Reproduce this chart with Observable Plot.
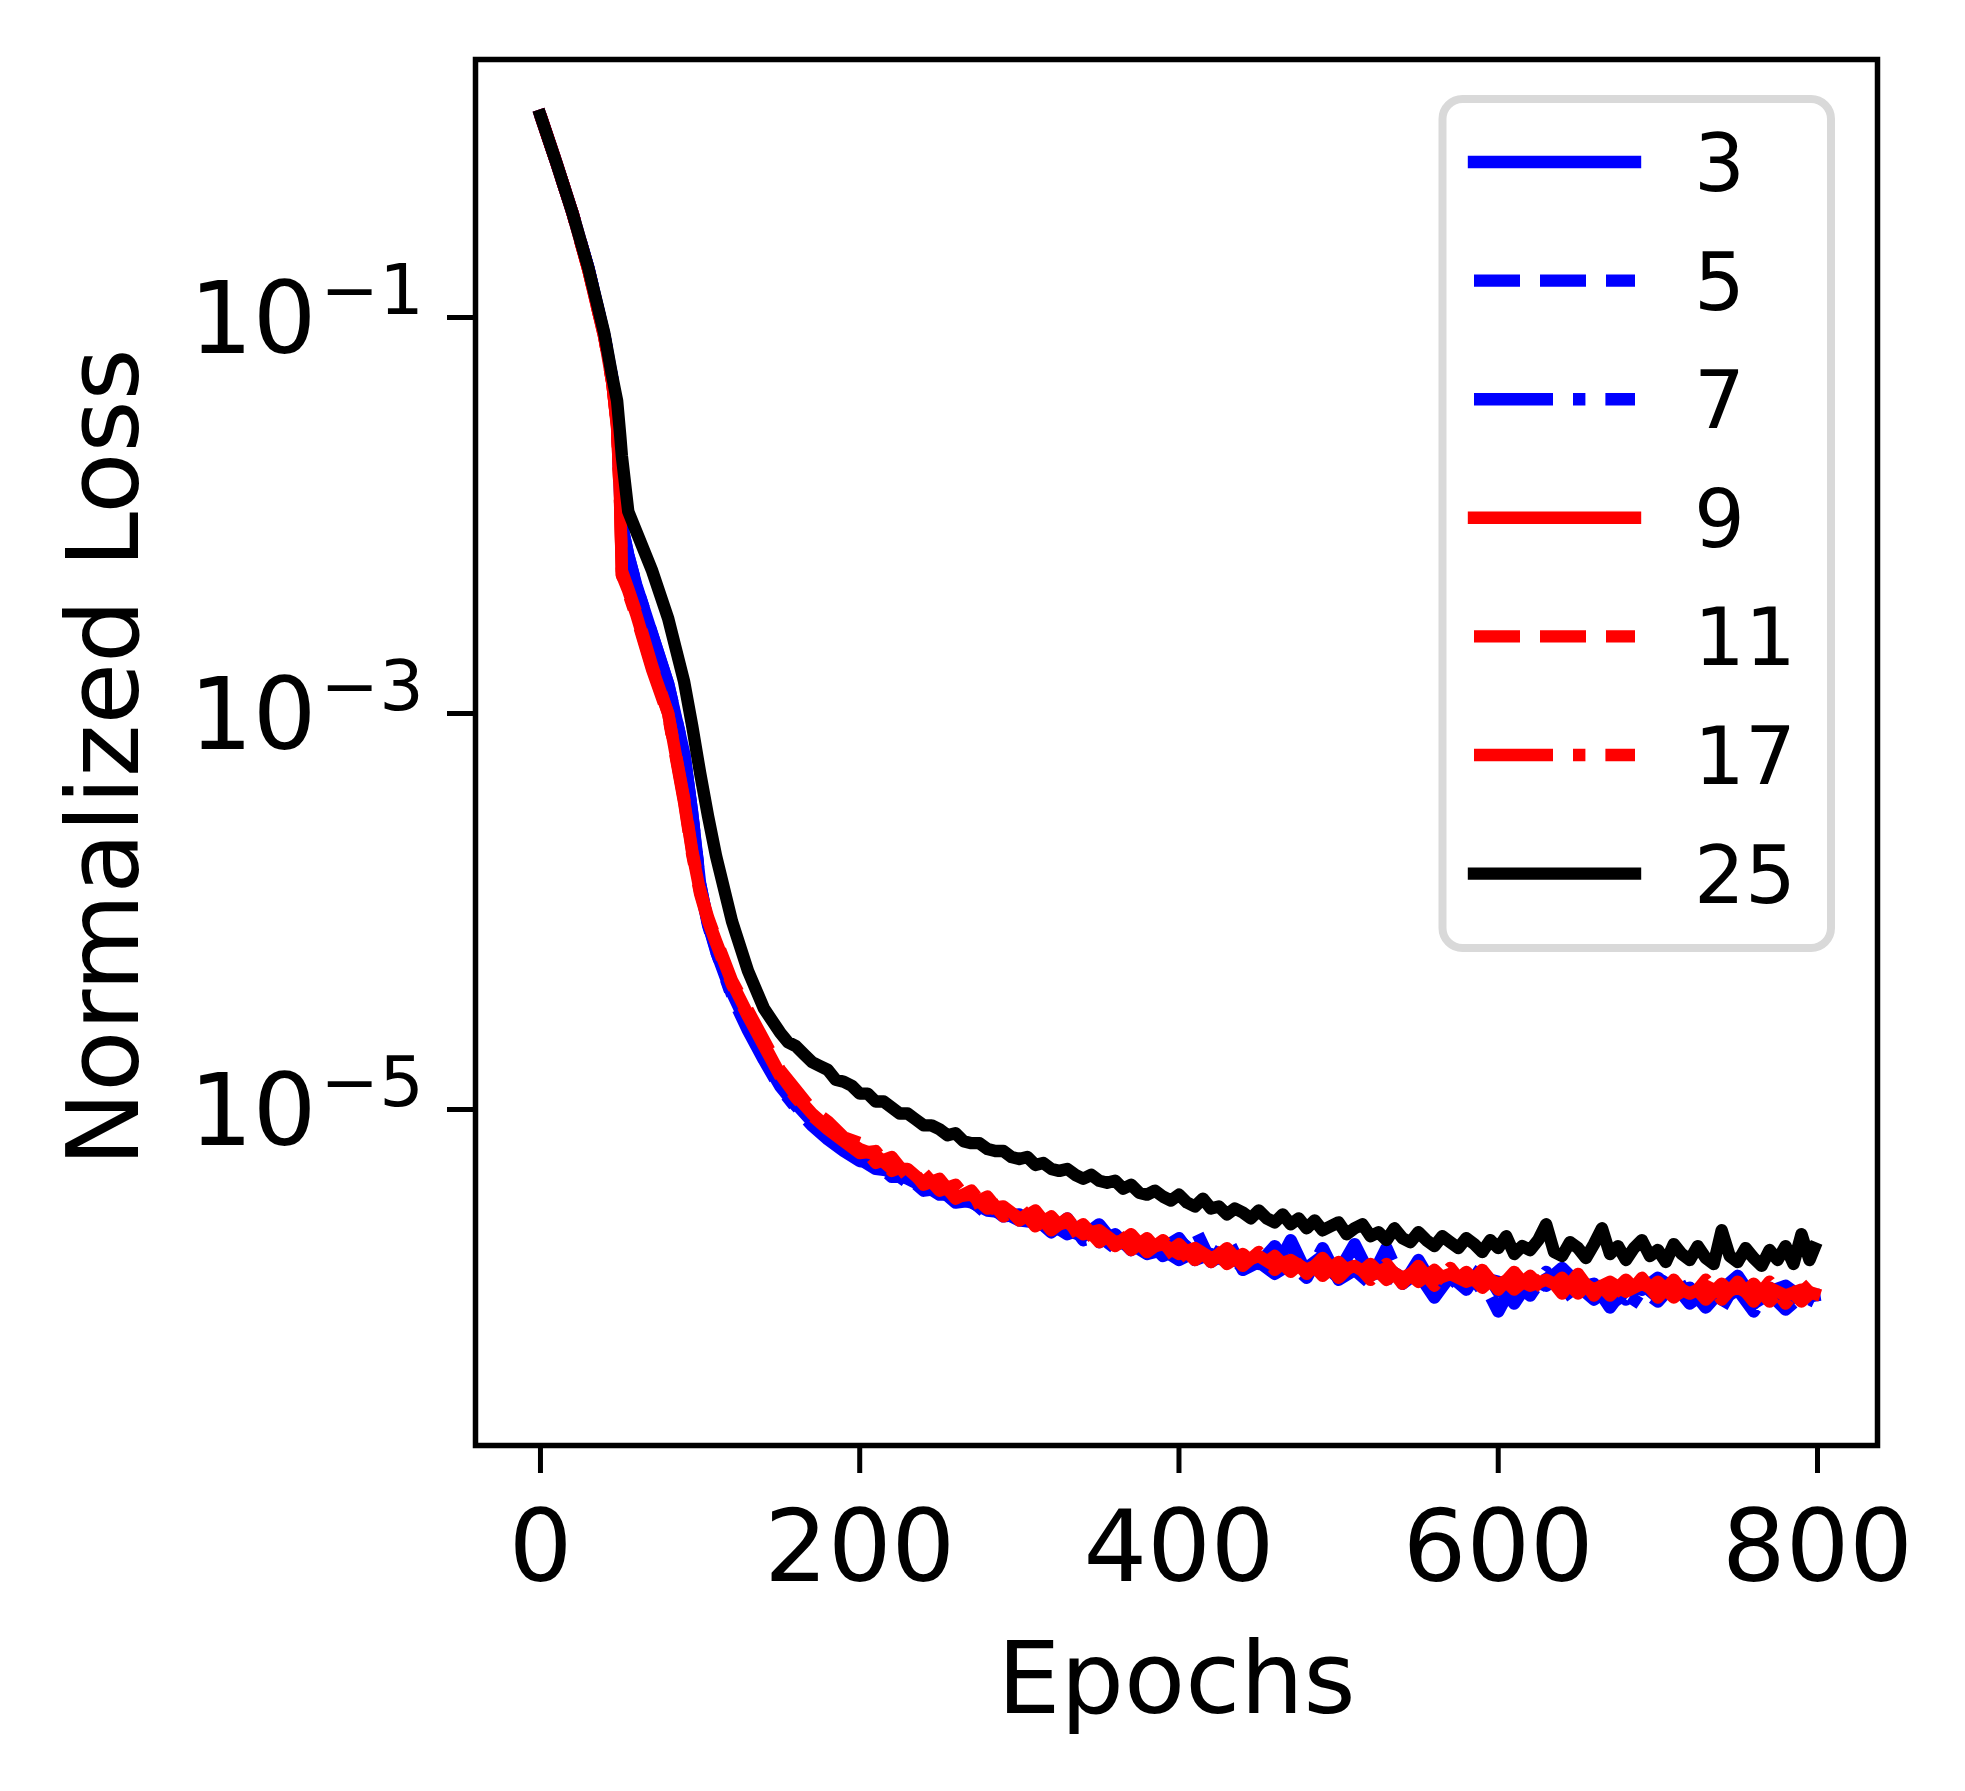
<!DOCTYPE html>
<html><head><meta charset="utf-8">
<script src="https://cdn.jsdelivr.net/npm/d3@7"></script>
<script src="https://cdn.jsdelivr.net/npm/@observablehq/plot@0.6"></script>
<style>body{margin:0;background:#fff;} svg{display:block}</style>
</head><body><div id="chart"></div>
<script>
// Epochs sampled along the curves (kernel sizes 3..17)
const epochs = [0,10,20,30,40,45,48,50,51,55,60,70,80,90,95,100,105,110,
  120,130,140,150,160,170,180,190,200,
  210,220,230,240,250,260,270,280,290,300,
  310,320,330,340,350,360,370,380,390,400,
  410,420,430,440,450,460,470,480,490,500,
  510,520,530,540,550,560,570,580,590,600,
  610,620,630,640,650,660,670,680,690,700,
  710,720,730,740,750,760,770,780,790,798];

// Epochs sampled for kernel 25 (denser, to follow its noise)
const epochs25 = [0,10,20,30,40,45,48,50,51,55,60,70,80,90,95,100,105,110,120,130,140,
  150,155,160,165,170,175,180,185,190,195,200,205,210,215,220,225,230,235,240,245,
  250,255,260,265,270,275,280,285,290,295,300,305,310,315,320,325,330,335,340,345,
  350,355,360,365,370,375,380,385,390,395,400,405,410,415,420,425,430,435,440,445,
  450,455,460,465,470,475,480,485,490,495,500,505,510,515,520,525,530,535,540,545,
  550,555,560,565,570,575,580,585,590,595,600,605,610,615,620,625,630,635,640,645,
  650,655,660,665,670,675,680,685,690,695,700,705,710,715,720,725,730,735,740,745,
  750,755,760,765,770,775,780,785,790,795,798];

// log10(normalized loss), one array per series
const loss3 = [0.02,-0.22,-0.47,-0.75,-1.09,-1.31,-1.5,-1.92,-2.05,-2.2,-2.35,-2.6,-2.85,-3.2,-3.5,-3.86,-4.06,-4.19,
  -4.41,-4.58,-4.73,-4.87,-4.97,-5.06,-5.13,-5.19,-5.24,
  -5.28,-5.32,-5.35,-5.39,-5.41,-5.45,-5.47,-5.51,-5.52,-5.56,
  -5.57,-5.6,-5.61,-5.64,-5.58,-5.68,-5.67,-5.7,-5.7,-5.65,
  -5.76,-5.73,-5.77,-5.75,-5.78,-5.69,-5.79,-5.8,-5.74,-5.82,
  -5.68,-5.84,-5.8,-5.85,-5.83,-5.95,-5.84,-5.86,-5.85,-5.87,
  -5.98,-5.86,-5.89,-5.84,-5.9,-5.88,-6.0,-5.89,-5.91,-5.85,
  -5.92,-5.9,-6.0,-5.91,-5.84,-5.96,-5.92,-5.89,-5.95,-5.94];
const loss5 = [0.02,-0.22,-0.47,-0.75,-1.09,-1.31,-1.5,-1.93,-2.06,-2.21,-2.36,-2.61,-2.86,-3.21,-3.51,-3.87,-4.07,-4.2,
  -4.42,-4.59,-4.74,-4.88,-4.98,-5.07,-5.14,-5.2,-5.25,
  -5.3,-5.31,-5.37,-5.38,-5.43,-5.43,-5.49,-5.48,-5.54,-5.53,
  -5.59,-5.58,-5.63,-5.6,-5.67,-5.63,-5.71,-5.66,-5.74,-5.7,
  -5.6,-5.77,-5.72,-5.8,-5.76,-5.82,-5.66,-5.83,-5.78,-5.85,
  -5.8,-5.86,-5.7,-5.88,-5.82,-5.89,-5.84,-5.91,-5.79,-5.92,
  -5.86,-5.93,-5.87,-5.8,-5.88,-5.94,-5.89,-5.96,-5.88,-5.95,
  -5.82,-5.97,-5.9,-5.96,-5.91,-6.02,-5.9,-5.97,-5.93,-5.96];
const loss7 = [0.02,-0.22,-0.47,-0.75,-1.09,-1.31,-1.5,-1.92,-2.05,-2.2,-2.35,-2.6,-2.85,-3.2,-3.5,-3.86,-4.06,-4.2,
  -4.43,-4.6,-4.75,-4.89,-4.99,-5.08,-5.15,-5.21,-5.26,
  -5.27,-5.34,-5.34,-5.41,-5.4,-5.47,-5.46,-5.53,-5.51,-5.58,
  -5.55,-5.62,-5.55,-5.66,-5.64,-5.7,-5.68,-5.73,-5.71,-5.76,
  -5.72,-5.79,-5.65,-5.81,-5.77,-5.83,-5.78,-5.85,-5.7,-5.86,
  -5.81,-5.88,-5.83,-5.89,-5.76,-5.9,-5.85,-5.92,-5.86,-6.02,
  -5.87,-5.94,-5.82,-5.95,-5.89,-5.96,-5.9,-6.03,-5.91,-5.97,
  -5.88,-5.98,-5.92,-6.0,-5.86,-5.98,-5.93,-6.01,-5.94,-5.97];
const loss9 = [0.02,-0.22,-0.47,-0.76,-1.1,-1.33,-1.55,-1.95,-2.3,-2.38,-2.5,-2.77,-3.0,-3.44,-3.7,-3.9,-4.04,-4.15,
  -4.36,-4.52,-4.67,-4.82,-4.93,-5.02,-5.09,-5.15,-5.2,
  -5.23,-5.3,-5.3,-5.37,-5.37,-5.44,-5.43,-5.5,-5.49,-5.55,
  -5.53,-5.59,-5.57,-5.63,-5.61,-5.67,-5.65,-5.7,-5.68,-5.73,
  -5.7,-5.75,-5.72,-5.77,-5.74,-5.79,-5.76,-5.81,-5.77,-5.82,
  -5.79,-5.84,-5.8,-5.85,-5.81,-5.86,-5.83,-5.87,-5.84,-5.88,
  -5.85,-5.89,-5.86,-5.9,-5.86,-5.91,-5.87,-5.92,-5.88,-5.92,
  -5.89,-5.93,-5.89,-5.93,-5.9,-5.94,-5.9,-5.94,-5.91,-5.93];
const loss11 = [0.02,-0.22,-0.47,-0.76,-1.1,-1.33,-1.55,-1.95,-2.28,-2.37,-2.49,-2.76,-3.0,-3.43,-3.69,-3.89,-4.03,-4.14,
  -4.35,-4.5,-4.65,-4.8,-4.9,-5.0,-5.06,-5.14,-5.17,
  -5.27,-5.24,-5.34,-5.32,-5.41,-5.38,-5.48,-5.44,-5.54,-5.49,
  -5.59,-5.54,-5.63,-5.58,-5.67,-5.61,-5.71,-5.65,-5.74,-5.68,
  -5.76,-5.69,-5.78,-5.73,-5.8,-5.74,-5.82,-5.75,-5.84,-5.77,
  -5.85,-5.78,-5.86,-5.8,-5.87,-5.81,-5.89,-5.82,-5.9,-5.83,
  -5.91,-5.84,-5.92,-5.85,-5.93,-5.85,-5.94,-5.86,-5.94,-5.87,
  -5.95,-5.87,-5.96,-5.88,-5.96,-5.88,-5.97,-5.89,-5.97,-5.91];
const loss17 = [0.02,-0.22,-0.47,-0.76,-1.1,-1.33,-1.56,-1.97,-2.3,-2.39,-2.51,-2.78,-3.01,-3.45,-3.71,-3.91,-4.05,-4.16,
  -4.37,-4.53,-4.68,-4.83,-4.94,-5.03,-5.1,-5.16,-5.22,
  -5.21,-5.31,-5.28,-5.38,-5.35,-5.45,-5.41,-5.51,-5.47,-5.56,
  -5.51,-5.61,-5.55,-5.65,-5.59,-5.69,-5.63,-5.72,-5.66,-5.75,
  -5.68,-5.77,-5.7,-5.79,-5.72,-5.81,-5.74,-5.83,-5.75,-5.85,
  -5.77,-5.86,-5.78,-5.88,-5.79,-5.89,-5.8,-5.9,-5.81,-5.91,
  -5.82,-5.92,-5.83,-5.93,-5.83,-5.94,-5.84,-5.95,-5.85,-5.95,
  -5.86,-5.96,-5.86,-5.96,-5.87,-5.97,-5.87,-5.98,-5.88,-5.95];
const loss25 = [0.02,-0.22,-0.47,-0.75,-1.08,-1.3,-1.42,-1.6,-1.7,-1.98,-2.08,-2.28,-2.52,-2.84,-3.06,-3.3,-3.52,-3.72,-4.05,-4.3,-4.49,
  -4.61,-4.66,-4.68,-4.72,-4.76,-4.78,-4.8,-4.85,-4.86,-4.88,
  -4.92,-4.92,-4.96,-4.96,-4.99,-5.02,-5.02,-5.05,-5.08,-5.08,
  -5.1,-5.13,-5.12,-5.16,-5.17,-5.17,-5.2,-5.21,-5.21,-5.24,
  -5.25,-5.24,-5.28,-5.27,-5.3,-5.31,-5.3,-5.33,-5.35,-5.33,
  -5.36,-5.37,-5.36,-5.4,-5.38,-5.42,-5.43,-5.41,-5.44,-5.46,
  -5.43,-5.47,-5.49,-5.45,-5.5,-5.49,-5.53,-5.5,-5.52,-5.55,
  -5.51,-5.55,-5.57,-5.53,-5.58,-5.55,-5.6,-5.56,-5.61,-5.59,
  -5.57,-5.63,-5.6,-5.58,-5.64,-5.62,-5.66,-5.6,-5.65,-5.67,
  -5.62,-5.66,-5.69,-5.64,-5.67,-5.7,-5.65,-5.68,-5.72,-5.66,
  -5.7,-5.64,-5.73,-5.69,-5.71,-5.66,-5.58,-5.72,-5.74,-5.67,
  -5.7,-5.75,-5.68,-5.6,-5.73,-5.69,-5.76,-5.7,-5.66,-5.74,
  -5.71,-5.77,-5.68,-5.73,-5.76,-5.69,-5.75,-5.78,-5.61,-5.74,
  -5.77,-5.7,-5.75,-5.79,-5.71,-5.76,-5.69,-5.78,-5.63,-5.76,-5.7];

const seriesNames = ["3","5","7","9","11","17","25"];
const seriesLog = [loss3, loss5, loss7, loss9, loss11, loss17, loss25];
const seriesEpochs = [epochs, epochs, epochs, epochs, epochs, epochs, epochs25];
const seriesColors = ["#0000ff","#0000ff","#0000ff","#ff0000","#ff0000","#ff0000","#000000"];
const seriesDash = [null,"46,20","79,20,12.4,20",null,"46,20","79,20,12.4,20",null];
const xTicks = [0,200,400,600,800];
const yTicks = [1e-1,1e-3,1e-5];

const lineW = 12.4;
const rows = [];
seriesNames.forEach((name,i)=>seriesEpochs[i].forEach((e,j)=>rows.push({series:name, epoch:e, loss:Math.pow(10, seriesLog[i][j])})));

const lineMarks = seriesNames.map((name,i)=>Plot.line(rows.filter(r=>r.series===name), {
  x:"epoch", y:"loss", stroke:seriesColors[i], strokeWidth:lineW,
  strokeDasharray: seriesDash[i] || undefined,
  strokeLinejoin:"round", strokeLinecap: seriesDash[i] ? "butt" : "square"
}));

const svg = Plot.plot({
  width:1965, height:1791,
  marginLeft:475, marginRight:88, marginTop:59, marginBottom:346,
  style:{fontFamily:"'DejaVu Sans', sans-serif", fontSize:"100px", background:"white", color:"black", overflow:"visible"},
  x:{domain:[-40.7, 837.6]},
  y:{type:"log", domain:[Math.pow(10,-6.697), Math.pow(10,0.303)]},
  marks:[
    ...lineMarks,
    Plot.frame({stroke:"black", strokeWidth:5.5}),
    Plot.axisX({ticks:xTicks, tickSize:28, tickPadding:36, fontSize:100, strokeWidth:5, label:null, tickFormat:d=>String(d)}),
    Plot.axisY({ticks:yTicks, tickSize:28, strokeWidth:5, tickFormat:()=>"", label:null}),
    Plot.text(yTicks, {y:d=>d, text:()=>"10", frameAnchor:"left", textAnchor:"end", lineAnchor:"middle", dx:-159, dy:4, fontSize:100}),
    Plot.text(yTicks, {y:d=>d, text:d=>"\u2212"+Math.round(-Math.log10(d)), frameAnchor:"left", textAnchor:"start", lineAnchor:"bottom", dx:-155, dy:-3, fontSize:70}),
    Plot.text(["Epochs"], {text:d=>d, frameAnchor:"bottom", textAnchor:"middle", lineAnchor:"bottom", dy:267, fontSize:100}),
    Plot.text(["Normalized Loss"], {text:d=>d, frameAnchor:"left", textAnchor:"middle", rotate:-90, lineAnchor:"bottom", dx:-338, dy:5, fontSize:100})
  ]
});

// Legend
const g = d3.select(svg).append("g");
g.append("rect").attr("x",1442.5).attr("y",99).attr("width",388.5).attr("height",849).attr("rx",20)
  .attr("fill","white").attr("stroke","#d9d9d9").attr("stroke-width",8);
seriesNames.forEach((name,i)=>{
  const y = 162 + 118.6*i;
  const ln = g.append("line").attr("x1",1474).attr("x2",1635).attr("y1",y).attr("y2",y)
    .attr("stroke",seriesColors[i]).attr("stroke-width",lineW)
    .attr("stroke-linecap", seriesDash[i] ? "butt" : "square");
  if (seriesDash[i]) ln.attr("stroke-dasharray", seriesDash[i]);
  g.append("text").attr("x",1694).attr("y",y+29).attr("font-size",80)
    .attr("text-anchor","start")
    .attr("font-family","'DejaVu Sans', sans-serif").attr("fill","black").text(name);
});

document.getElementById("chart").appendChild(svg);
</script>
</body></html>
